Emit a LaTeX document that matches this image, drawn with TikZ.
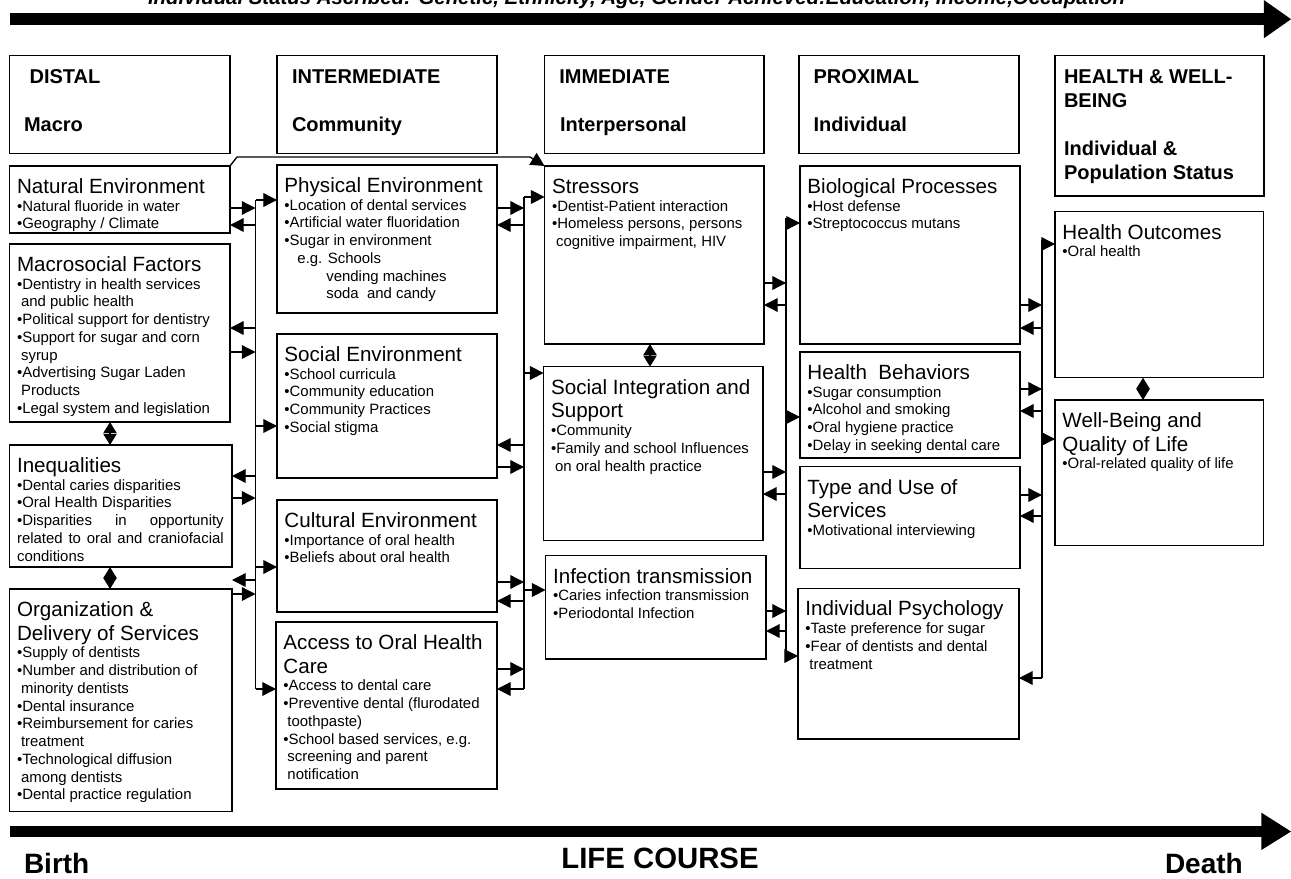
\documentclass[tikz,border=0pt]{standalone}
\usepackage{fontspec}
\setmainfont{Liberation Sans}
\usetikzlibrary{arrows.meta}
\tikzset{
  boxst/.style={draw, line width=1.15pt, anchor=north west, inner sep=0pt, outer sep=0pt},
  arr/.style={line width=1pt, -{Triangle[length=10.3pt,width=10.3pt]}},
  dbl/.style={line width=1pt, {Triangle[length=8.4pt,width=10pt]}-{Triangle[length=8.4pt,width=10pt]}},
  busln/.style={line width=1pt},
  txt/.style={anchor=base west, inner sep=0pt, outer sep=0pt},
}
\newcommand\TT{\fontsize{15.45pt}{17.8pt}\selectfont}
\newcommand\BB{\fontsize{11.2pt}{13.3pt}\selectfont}
\newcommand\HH{\fontsize{15pt}{18pt}\selectfont\bfseries}
\newcommand\ind{\hspace*{3pt}}
\newcommand\bx[5]{\node[boxst, minimum width={(#4-#2)*0.75pt}, minimum height={(#5-#3)*0.75pt}] (#1) at (#2,#3) {};}
\newcommand\tx[2]{\node[txt] (#1t) at ([xshift=5.6pt,yshift=-20.6pt]#1.north west) {\vtop{\lineskiplimit=-50pt\lineskip=0pt #2}};}
\newcommand\ar[3]{\draw[arr] (#1 |- 0,#3) -- (#2 |- 0,#3);}
\begin{document}
\begin{tikzpicture}[x=0.75pt,y=-0.75pt]
\useasboundingbox (0,0) rectangle (1291,878);
% life-course arrows
\fill (9.9,13.3) rectangle (1265,25);
\fill (1263.8,0) -- (1291,19.2) -- (1263.8,38.3) -- cycle;
\fill (10.3,826) rectangle (1262,837);
\fill (1261.4,812.7) -- (1291,831.5) -- (1261.4,850) -- cycle;
\node[txt] (status) at (148,4) {\fontsize{15.3pt}{18pt}\selectfont\bfseries\itshape Individual Status Ascribed: Genetic, Ethnicity, Age, Gender Achieved:Education, Income,Occupation};
\node[txt] (birth) at (24,873) {\fontsize{21pt}{24pt}\selectfont\bfseries Birth};
\node[anchor=base, inner sep=0pt] (life) at (660,868) {\fontsize{22pt}{24pt}\selectfont\bfseries LIFE COURSE};
\node[txt] (death) at (1165,873) {\fontsize{21pt}{24pt}\selectfont\bfseries Death};
% header boxes
\bx{h1}{9.6}{55.7}{230}{153.3}
\bx{h2}{277}{55.7}{497}{153.3}
\bx{h3}{544.6}{55.7}{764}{153.3}
\bx{h4}{799}{55.7}{1019}{153.3}
\bx{h5}{1055}{55.7}{1264}{196}
\node[txt] (h1a) at (29.6,83.3) {\HH DISTAL};
\node[txt] (h1b) at (24,131.7) {\HH Macro};
\node[txt] (h2a) at (292,83.3) {\HH INTERMEDIATE};
\node[txt] (h2b) at (292,131.7) {\HH Community};
\node[txt] (h3a) at (559.3,83.3) {\HH IMMEDIATE};
\node[txt] (h3b) at (560,131.7) {\HH Interpersonal};
\node[txt] (h4a) at (813.5,83.3) {\HH PROXIMAL};
\node[txt] (h4b) at (813.5,131.7) {\HH Individual};
\node[txt] (h5a) at (1064,83.3) {\HH HEALTH \& WELL-};
\node[txt] (h5b) at (1064,107) {\HH BEING};
\node[txt] (h5c) at (1064,155) {\HH Individual \&};
\node[txt] (h5d) at (1064,179.5) {\HH Population Status};
% column 1
\bx{nat}{9.6}{166}{230}{233}
\bx{mac}{9.6}{244}{230}{422}
\bx{ine}{9.6}{445}{232}{567}
\bx{org}{9.6}{589}{232}{811.7}
% column 2
\bx{phy}{277}{165}{497}{313}
\bx{soc}{277}{334}{497}{478}
\bx{cul}{277}{500}{497}{612}
\bx{acc}{276}{622}{497}{789}
% column 3
\bx{str}{544.6}{166}{764}{344}
\bx{si}{543.6}{366.7}{763}{540.7}
\bx{inf}{545.6}{555.7}{766}{659}
% column 4
\bx{bio}{800}{166}{1020}{344}
\bx{hb}{800}{352}{1020}{458}
\bx{tu}{800}{466.7}{1020}{568.4}
\bx{ip}{798}{588.4}{1019}{739}
% column 5
\bx{ho}{1055}{211.7}{1263.5}{377.7}
\bx{wb}{1055}{400}{1263.5}{545.7}
% texts
\tx{nat}{\TT\hbox{Natural Environment}\BB\hbox{•Natural fluoride in water}\hbox{•Geography / Climate}}
\tx{mac}{\TT\hbox{Macrosocial Factors}\BB\hbox{•Dentistry in health services}\hbox{\ind and public health}\hbox{•Political support for dentistry}\hbox{•Support for sugar and corn}\hbox{\ind syrup}\hbox{•Advertising Sugar Laden}\hbox{\ind Products}\hbox{•Legal system and legislation}}
\tx{ine}{\TT\hbox{Inequalities}\BB\hbox{•Dental caries disparities}\hbox{•Oral Health Disparities}\hbox to 155pt{•Disparities\hfill in\hfill opportunity}\hbox to 155pt{related\hfill to\hfill oral\hfill and\hfill craniofacial}\hbox{conditions}}
\tx{org}{\TT\hbox{Organization \&}\hbox{Delivery of Services}\BB\hbox{•Supply of dentists}\hbox{•Number and distribution of}\hbox{\ind minority dentists}\hbox{•Dental insurance}\hbox{•Reimbursement for caries}\hbox{\ind treatment}\hbox{•Technological diffusion}\hbox{\ind among dentists}\hbox{•Dental practice regulation}}
\tx{phy}{\TT\hbox{Physical Environment}\BB\hbox{•Location of dental services}\hbox{•Artificial water fluoridation}\hbox{•Sugar in environment}\hbox{\hspace*{9.75pt}e.g. Schools}\hbox{\hspace*{31.4pt}vending machines}\hbox{\hspace*{31.4pt}soda\ \ and candy}}
\tx{soc}{\TT\hbox{Social Environment}\BB\hbox{•School curricula}\hbox{•Community education}\hbox{•Community Practices}\hbox{•Social stigma}}
\tx{cul}{\TT\hbox{Cultural Environment}\BB\hbox{•Importance of oral health}\hbox{•Beliefs about oral health}}
\tx{acc}{\TT\hbox{Access to Oral Health}\hbox{Care}\BB\hbox{•Access to dental care}\hbox{•Preventive dental (flurodated}\hbox{\ind toothpaste)}\hbox{•School based services, e.g.}\hbox{\ind screening and parent}\hbox{\ind notification}}
\tx{str}{\TT\hbox{Stressors}\BB\hbox{•Dentist-Patient interaction}\hbox{•Homeless persons, persons}\hbox{\ind cognitive impairment, HIV}}
\tx{si}{\TT\hbox{Social Integration and}\hbox{Support}\BB\hbox{•Community}\hbox{•Family and school Influences}\hbox{\ind on oral health practice}}
\tx{inf}{\TT\hbox{Infection transmission}\BB\hbox{•Caries infection transmission}\hbox{•Periodontal Infection}}
\tx{bio}{\TT\hbox{Biological Processes}\BB\hbox{•Host defense}\hbox{•Streptococcus mutans}}
\tx{hb}{\TT\hbox{Health\ \ Behaviors}\BB\hbox{•Sugar consumption}\hbox{•Alcohol and smoking}\hbox{•Oral hygiene practice}\hbox{•Delay in seeking dental care}}
\tx{tu}{\TT\hbox{Type and Use of}\hbox{Services}\BB\hbox{•Motivational interviewing}}
\tx{ip}{\TT\hbox{Individual Psychology}\BB\hbox{•Taste preference for sugar}\hbox{•Fear of dentists and dental}\hbox{\ind treatment}}
\tx{ho}{\TT\hbox{Health Outcomes}\BB\hbox{•Oral health}}
\tx{wb}{\TT\hbox{Well-Being and}\hbox{Quality of Life}\BB\hbox{•Oral-related quality of life}}
% bus lines
\coordinate (bAt) at (255.5,200); \coordinate (bAb) at (255.5,689);
\coordinate (bBt) at (524,197);   \coordinate (bBb) at (524,689);
\coordinate (bCt) at (786,218);   \coordinate (bCb) at (786,662);
\coordinate (bDt) at (1042,240);  \coordinate (bDb) at (1042,678);
\draw[busln] (bAt) -- (bAb);
\draw[busln] (bBt) -- (bBb);
\draw[busln] (bCt) -- (bCb);
\draw[busln] (bDt) -- (bDb);
% bus A
\ar{nat.east}{bAt}{208} \ar{bAt}{nat.east}{225}
\ar{bAt}{mac.east}{328} \ar{mac.east}{bAt}{352}
\ar{bAt}{ine.east}{476} \ar{ine.east}{bAt}{498}
\ar{bAt}{org.east}{580} \ar{org.east}{bAt}{594}
\ar{bAt}{phy.west}{200} \ar{bAt}{soc.west}{426}
\ar{bAt}{cul.west}{567} \ar{bAt}{acc.west}{689}
% bus B
\ar{phy.east}{bBt}{208} \ar{bBt}{phy.east}{225}
\ar{bBt}{str.west}{197}
\ar{bBt}{soc.east}{445} \ar{soc.east}{bBt}{467}
\ar{bBt}{si.west}{373}
\ar{cul.east}{bBt}{582} \ar{bBt}{inf.west}{590} \ar{bBt}{cul.east}{601}
\ar{acc.east}{bBt}{669} \ar{bBt}{acc.east}{689}
% bus C
\ar{bCt}{bio.west}{223}
\ar{str.east}{bCt}{283} \ar{bCt}{str.east}{305}
\ar{bCt}{hb.west}{417}
\ar{si.east}{bCt}{472} \ar{bCt}{si.east}{494}
\ar{inf.east}{bCt}{611} \ar{bCt}{inf.east}{631}
\ar{bCt}{ip.west}{656}
% bus D
\ar{bDt}{ho.west}{244}
\ar{bio.east}{bDt}{305} \ar{bDt}{bio.east}{328}
\ar{hb.east}{bDt}{389} \ar{bDt}{hb.east}{411}
\ar{bDt}{wb.west}{439}
\ar{tu.east}{bDt}{495} \ar{bDt}{tu.east}{516}
\ar{bDt}{ip.east}{678}
% top connector
\draw[arr] (nat.north east) -- (237,157) -- (530,157) -- (str.north west);
% two-way links
\draw[dbl] (mac.south -| 110,0) -- (ine.north -| 110,0);
\draw[dbl] (ine.south -| 110,0) -- (org.north -| 110,0);
\draw[dbl] (str.south -| 650,0) -- (si.north -| 650,0);
\draw[dbl] (ho.south -| 1143,0) -- (wb.north -| 1143,0);
\end{tikzpicture}
\end{document}
